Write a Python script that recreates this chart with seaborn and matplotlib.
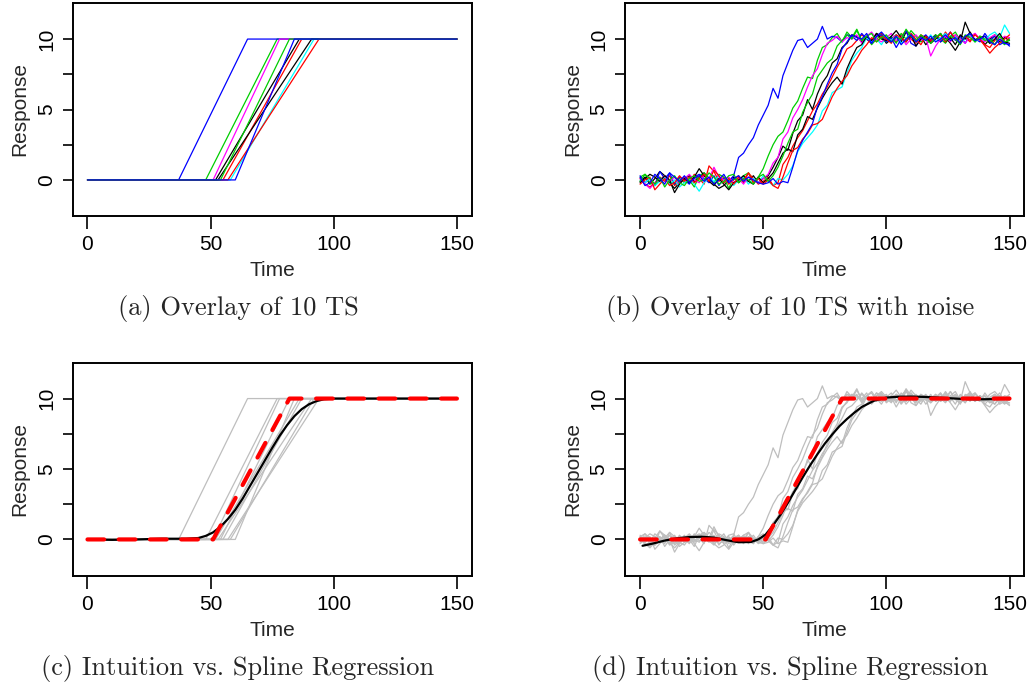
import numpy as np
import pandas as pd
import matplotlib.pyplot as plt
import seaborn as sns

# clean ramps: flat at 0 until start, linear up to 10 at end, flat after
ramp_start = [52, 55, 48, 37, 58, 51, 53, 57, 54, 60]
ramp_end = [86, 87, 77, 65, 92, 78, 91, 94, 82, 84]
series_colors = ['#000000', '#FF0000', '#00CD00', '#0000FF', '#00FFFF',
                 '#FF00FF', '#000000', '#FF0000', '#00CD00', '#0000FF']

# noisy series, sampled every 2 time units (0..150)
time_noisy = np.arange(0, 151, 2)
ts1 = [-0.1, 0.2, -0.3, 0.1, 0.6, 0.3, -0.2, -0.6, -0.2, 0.1,
       0.3, -0.1, 0.2, 0.5, 0.1, -0.3, -0.6, -0.4, 0.0, 0.2,
       -0.2, 0.1, -0.1, 0.3, -0.2, 0.1, 0.3, 0.9, 1.6, 2.4,
       2.1, 3.3, 4.2, 4.6, 5.7, 5.0, 6.1, 6.9, 7.4, 8.3,
       8.6, 9.4, 9.7, 10.3, 10.2, 9.8, 10.1, 9.9, 10.4, 10.2,
       9.7, 10.0, 10.3, 9.8, 10.5, 10.1, 9.9, 10.2, 9.6, 10.0,
       10.3, 9.8, 10.1, 9.7, 9.2, 9.8, 11.2, 10.4, 9.9, 10.2,
       9.6, 10.0, 10.3, 9.8, 10.1, 9.9]
ts2 = [0.1, -0.3, -0.5, -0.2, 0.2, -0.1, 0.3, -0.4, -0.1, 0.2,
       -0.2, 0.4, 0.1, -0.3, 1.0, 0.6, -0.1, 0.2, -0.3, 0.0,
       0.3, -0.2, 0.5, 0.1, -0.3, -0.1, 0.2, -0.4, -0.2, 1.1,
       1.6, 2.4, 3.0, 3.5, 4.2, 4.9, 5.4, 6.1, 6.6, 7.3,
       8.0, 8.6, 9.3, 9.5, 9.9, 10.3, 10.0, 9.7, 10.2, 10.4,
       9.9, 10.1, 9.8, 10.2, 10.6, 10.0, 9.7, 10.3, 10.1, 9.8,
       10.2, 9.9, 10.5, 10.0, 10.3, 9.7, 10.1, 9.8, 10.4, 9.9,
       9.6, 9.4, 9.9, 10.2, 9.7, 10.1]
ts3 = [0.2, 0.4, -0.2, -0.4, 0.0, 0.3, -0.1, -0.3, 0.1, -0.2,
       0.0, -0.5, 0.3, 0.5, 0.1, -0.2, 0.4, 0.2, -0.6, 0.1,
       -0.1, 0.3, 0.5, -0.2, 0.2, 0.8, 1.7, 2.5, 3.1, 3.4,
       4.2, 5.1, 5.6, 6.5, 7.3, 7.2, 8.5, 9.4, 9.6, 10.1,
       10.4, 9.8, 10.5, 10.1, 10.7, 9.9, 10.2, 9.6, 10.0, 10.3,
       9.8, 10.2, 9.7, 10.4, 10.0, 10.6, 10.2, 9.8, 10.1, 9.9,
       10.3, 10.0, 9.7, 10.2, 10.5, 9.9, 10.1, 10.4, 9.8, 10.2,
       10.0, 9.7, 10.3, 9.9, 9.6, 10.0]
ts4 = [0.3, -0.2, 0.1, -0.4, 0.6, 0.1, 0.5, -0.3, 0.2, 0.0,
       -0.3, 0.2, 0.4, 0.1, -0.2, 0.3, -0.4, 0.1, -0.1, 0.3,
       1.6, 1.9, 2.5, 3.0, 3.9, 4.6, 5.3, 6.5, 5.8, 7.4,
       8.3, 9.2, 9.9, 10.0, 9.4, 9.7, 10.0, 10.9, 10.0, 10.2,
       10.1, 9.8, 10.3, 10.2, 9.9, 10.4, 10.0, 9.7, 10.2, 10.3,
       9.8, 10.1, 9.4, 10.0, 10.6, 9.7, 9.5, 10.0, 10.3, 9.9,
       10.2, 9.8, 10.1, 10.5, 9.9, 10.2, 9.7, 10.3, 10.0, 9.8,
       10.4, 9.9, 10.2, 9.6, 9.8, 9.5]
ts5 = [0.0, -0.2, 0.1, -0.4, -0.1, 0.2, -0.3, 0.0, -0.5, -0.2,
       0.1, -0.3, -0.8, -0.2, 0.2, -0.1, 0.3, -0.2, 0.1, -0.4,
       0.0, 0.2, -0.3, 0.1, -0.2, 0.3, -0.1, -0.4, 0.1, 0.0,
       0.4, 1.0, 2.0, 2.6, 3.0, 3.4, 3.9, 4.9, 5.3, 6.2,
       6.4, 6.6, 7.6, 8.5, 9.0, 9.4, 10.1, 9.8, 10.0, 9.6,
       10.2, 9.9, 10.3, 9.7, 10.0, 10.4, 9.8, 10.1, 9.9, 10.3,
       9.8, 10.1, 10.4, 9.9, 10.2, 9.7, 10.0, 10.3, 9.8, 10.1,
       9.9, 10.3, 10.5, 10.1, 11.0, 10.4]
ts6 = [0.1, -0.3, -0.6, -0.2, 0.0, 0.3, -0.1, 0.2, -0.3, 0.1,
       0.4, 0.0, -0.2, 0.3, 0.1, 0.9, 0.2, 0.0, 0.2, -0.2,
       0.1, -0.3, 0.2, 0.0, -0.2, 0.1, 0.4, 1.2, 1.6, 2.9,
       3.4, 4.4, 5.0, 5.7, 6.6, 7.4, 7.9, 8.9, 9.7, 9.9,
       10.2, 9.8, 10.1, 10.0, 10.3, 9.7, 10.2, 10.5, 10.0, 9.8,
       10.1, 10.4, 9.9, 10.2, 9.6, 10.0, 10.3, 9.9, 10.1, 8.8,
       9.5, 10.0, 10.2, 9.8, 10.3, 10.0, 9.7, 10.2, 10.4, 10.0,
       9.8, 10.1, 10.3, 9.9, 10.2, 10.1]
ts7 = [-0.2, 0.1, 0.4, 0.2, -0.1, 0.3, 0.0, -0.9, -0.3, 0.1,
       -0.2, 0.2, 0.8, 0.3, -0.1, -0.4, 0.1, -0.3, -0.7, -0.2,
       0.0, 0.3, -0.1, -0.3, 0.2, -0.2, 0.1, 0.5, 1.2, 1.9,
       2.2, 2.0, 3.2, 3.6, 4.5, 4.3, 5.1, 5.8, 6.4, 6.9,
       7.3, 6.8, 7.9, 8.7, 9.4, 9.6, 10.2, 9.9, 10.4, 10.0,
       9.9, 10.2, 10.6, 10.1, 9.8, 10.3, 9.5, 10.0, 10.2, 9.7,
       10.0, 10.4, 9.8, 10.1, 9.6, 10.3, 10.0, 10.5, 9.9, 10.1,
       10.2, 9.7, 10.0, 10.4, 9.8, 9.7]
ts8 = [-0.3, 0.0, 0.2, -0.7, -0.3, 0.1, -0.4, -0.2, 0.3, -0.1,
       0.2, -0.2, 0.1, 0.4, -0.1, 0.7, 0.3, -0.2, 0.1, -0.3,
       0.2, 0.0, 0.5, -0.2, 0.1, -0.3, 0.0, -0.4, -0.6, 0.2,
       1.2, 2.1, 2.3, 2.9, 3.3, 3.9, 4.0, 4.3, 5.1, 5.9,
       6.5, 7.0, 7.4, 8.1, 8.6, 9.2, 9.6, 10.1, 9.8, 10.2,
       10.0, 9.7, 10.3, 10.1, 9.8, 10.4, 10.0, 9.6, 10.2, 9.9,
       10.1, 10.3, 9.8, 10.5, 10.0, 9.7, 10.2, 9.9, 10.3, 10.0,
       9.5, 9.0, 9.4, 9.7, 10.0, 10.3]
ts9 = [-0.1, 0.4, 0.1, -0.3, 0.2, -0.5, 0.0, 0.3, -0.2, -0.4,
       0.1, 0.3, -0.1, 0.0, 0.5, 0.2, -0.3, -0.1, 0.3, 0.4,
       -0.2, 0.1, 0.0, -0.3, 0.2, 0.4, -0.1, 0.3, 0.9, 1.7,
       2.6, 3.4, 3.6, 4.8, 5.5, 6.1, 7.3, 7.8, 8.3, 8.6,
       9.5, 9.9, 10.3, 10.0, 10.6, 9.9, 10.2, 10.4, 9.8, 10.1,
       10.3, 9.8, 10.1, 10.0, 10.7, 10.2, 9.9, 10.3, 10.0, 9.7,
       10.1, 10.4, 9.9, 10.2, 10.0, 9.6, 10.3, 10.1, 9.8, 10.2,
       9.9, 10.0, 9.6, 10.2, 9.8, 9.9]
ts10 = [0.2, -0.4, -0.2, 0.4, 0.1, -0.3, 0.5, 0.2, -0.1, 0.3,
        -0.2, 0.1, 0.3, -0.1, 0.2, -0.3, 0.0, 0.4, -0.2, 0.1,
        0.3, -0.1, 0.2, 0.0, -0.2, -0.3, -0.2, 0.1, -0.3, -0.1,
        -0.2, 0.9, 2.1, 2.8, 3.4, 4.0, 5.2, 5.9, 6.8, 7.6,
        8.2, 9.3, 9.8, 10.3, 10.1, 10.0, 10.4, 9.7, 10.2, 10.5,
        10.1, 9.8, 10.2, 9.6, 10.0, 10.3, 9.8, 10.1, 9.9, 10.2,
        9.8, 10.0, 10.3, 9.9, 10.1, 9.7, 10.2, 10.4, 9.9, 10.0,
        10.2, 9.8, 9.6, 10.0, 9.7, 9.6]
noisy_series = [ts1, ts2, ts3, ts4, ts5, ts6, ts7, ts8, ts9, ts10]

# "intuition" piecewise line and fitted spline curves
intuition_time = [0, 51, 82, 150]
intuition_resp = [0, 0, 10, 10]
spline_c_time = [0, 10, 20, 30, 40, 45, 48, 51, 54, 57, 60, 63, 66, 69, 72,
                 75, 78, 81, 84, 87, 90, 93, 96, 100, 110, 120, 130, 140, 150]
spline_c_resp = [0.0, -0.03, 0.0, 0.05, 0.05, 0.1, 0.25, 0.5, 0.9, 1.45, 2.1,
                 2.9, 3.8, 4.7, 5.6, 6.5, 7.35, 8.1, 8.75, 9.25, 9.6, 9.82,
                 9.95, 10.0, 10.0, 10.0, 10.0, 10.0, 10.0]
spline_d_time = [1, 5, 10, 15, 20, 25, 30, 35, 40, 45, 48, 51, 54, 57, 60, 63,
                 66, 69, 72, 75, 78, 81, 84, 87, 90, 95, 100, 105, 110, 115,
                 120, 125, 130, 135, 140, 145, 150]
spline_d_resp = [-0.45, -0.3, -0.08, 0.08, 0.17, 0.19, 0.13, -0.05, -0.2,
                 -0.18, 0.0, 0.35, 1.0, 1.75, 2.6, 3.5, 4.4, 5.25, 6.05,
                 6.8, 7.45, 8.05, 8.55, 9.0, 9.4, 9.85, 10.07, 10.13, 10.14,
                 10.12, 10.08, 10.03, 9.98, 9.95, 9.95, 9.97, 10.0]

captions = ['(a) Overlay of 10 TS', '(b) Overlay of 10 TS with noise',
            '(c) Intuition vs. Spline Regression',
            '(d) Intuition vs. Spline Regression']

# long-form frames
rows = []
for i, (s, e) in enumerate(zip(ramp_start, ramp_end)):
    for t, r in zip([0, s, e, 150], [0, 0, 10, 10]):
        rows.append((i, t, r))
clean_df = pd.DataFrame(rows, columns=['series', 'Time', 'Response'])

rows = []
for i, vals in enumerate(noisy_series):
    assert len(vals) == len(time_noisy), (i, len(vals))
    for t, r in zip(time_noisy, vals):
        rows.append((i, t, r))
noisy_df = pd.DataFrame(rows, columns=['series', 'Time', 'Response'])

sns.set_style('ticks')
plt.rcParams['font.family'] = ['Liberation Sans', 'DejaVu Sans']

W, H = 1032, 689
fig = plt.figure(figsize=(W / 100, H / 100), dpi=100)
box_w, box_h = 399 / W, 213 / H
ax_a = fig.add_axes([72.7 / W, 1 - 216 / H, box_w, box_h])
ax_b = fig.add_axes([625.3 / W, 1 - 216 / H, box_w, box_h])
ax_c = fig.add_axes([72.7 / W, 1 - 575.5 / H, box_w, box_h])
ax_d = fig.add_axes([625.3 / W, 1 - 575.5 / H, box_w, box_h])

palette = {i: c for i, c in enumerate(series_colors)}
gray = {i: '#BEBEBE' for i in range(10)}

sns.lineplot(data=clean_df, x='Time', y='Response', hue='series', palette=palette,
             estimator=None, sort=False, legend=False, lw=0.9, ax=ax_a)
sns.lineplot(data=noisy_df, x='Time', y='Response', hue='series', palette=palette,
             estimator=None, sort=False, legend=False, lw=0.9, ax=ax_b)

for ax, df, sx, sy in [(ax_c, clean_df, spline_c_time, spline_c_resp),
                       (ax_d, noisy_df, spline_d_time, spline_d_resp)]:
    sns.lineplot(data=df, x='Time', y='Response', hue='series', palette=gray,
                 estimator=None, sort=False, legend=False, lw=0.9, ax=ax)
    sns.lineplot(x=sx, y=sy, color='black', lw=1.6, ax=ax)
    sns.lineplot(x=intuition_time, y=intuition_resp, color='#FF0000', lw=3,
                 linestyle=(0, (4, 3.5)), dash_capstyle='round', ax=ax)

for ax in [ax_a, ax_b, ax_c, ax_d]:
    ax.set_xlim(-6, 156)
    ax.set_ylim(-2.56, 12.56)
    ax.set_xticks([0, 50, 100, 150])
    ax.set_yticks([0, 2.5, 5, 7.5, 10], ['0', '', '5', '', '10'])
    ax.tick_params(axis='both', direction='out', width=1.2, color='black',
                   labelsize=15, labelcolor='black')
    ax.tick_params(axis='x', length=9, pad=5)
    ax.tick_params(axis='y', length=7, pad=5, labelrotation=90)
    for lbl in ax.get_yticklabels():
        lbl.set_va('center')
    for sp in ax.spines.values():
        sp.set_visible(True)
        sp.set_linewidth(1.4)
        sp.set_color('black')
    ax.set_xlabel('Time', fontsize=15)
    ax.set_ylabel('Response', fontsize=15)
    ax.xaxis.label.set_va('center')
    ax.yaxis.label.set_va('center')
    ax.xaxis.set_label_coords(0.5, -54.7 / 213)
    ax.yaxis.set_label_coords(-52.7 / 399, 0.5)

for (cx, cy), text in zip([(238, 309), (790, 309), (238, 668), (790, 668)], captions):
    fig.text(cx / W, 1 - cy / H, text, family='cmr10', fontsize=19,
             ha='center', va='center')

fig.savefig('out.png', dpi=100)
